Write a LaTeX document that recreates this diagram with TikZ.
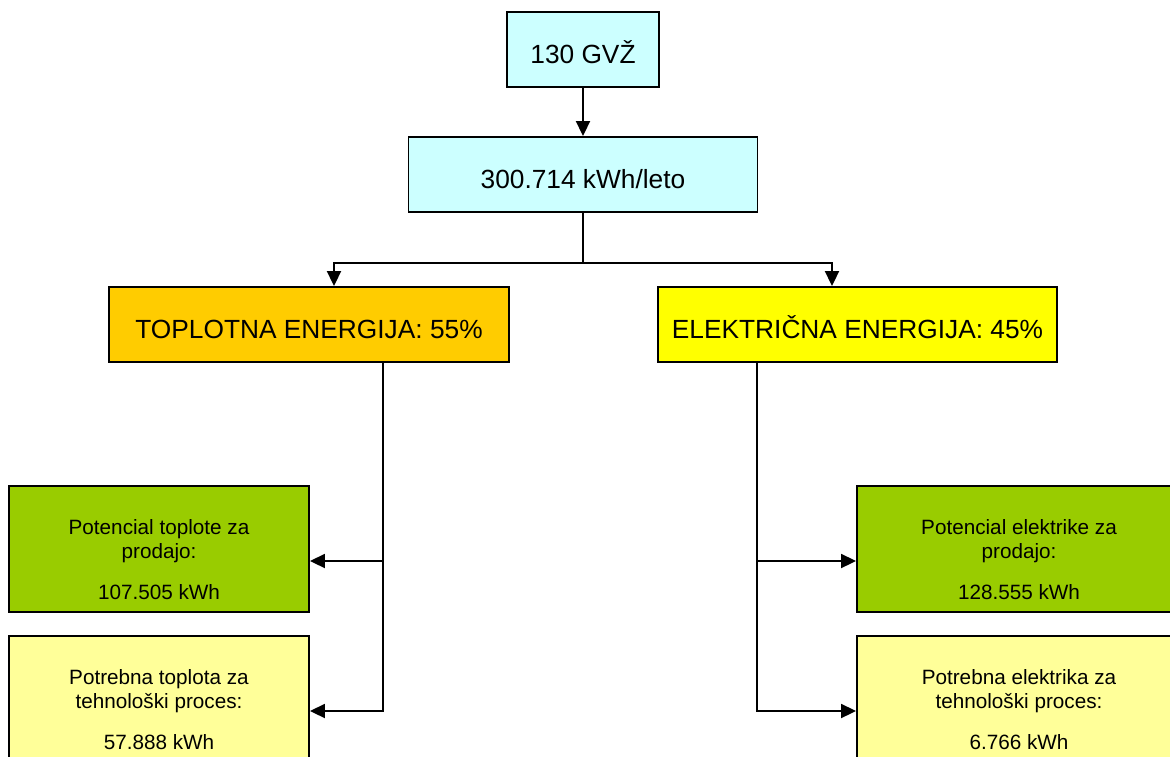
\documentclass[tikz,border=0pt]{standalone}
\usepackage{fontspec}
\setmainfont{Liberation Sans}
\usepackage{tikz}
\usepackage{xcolor}
\usetikzlibrary{
    arrows.meta,
    calc,
    positioning
}
\definecolor{bxcyan}{HTML}{CCFFFF}
\definecolor{bxorange}{HTML}{FFCC00}
\definecolor{bxyellow}{HTML}{FFFF00}
\definecolor{bxgreen}{HTML}{99CC00}
\definecolor{bxpale}{HTML}{FFFF99}
\newcommand{\topgap}{\rule{0pt}{37pt}}
\tikzset{bxbig/.style={rectangle, draw=black, line width=1.9pt, inner sep=0pt, minimum height=75pt, text height=30pt, text depth=2pt, align=center, font=\fontsize{26.3}{30}\selectfont}}
\tikzset{bxsmall/.style={rectangle, draw=black, line width=1.9pt, inner sep=0pt, minimum height=126pt, align=center, font=\fontsize{20.7}{24}\selectfont}}
\tikzset{lnk/.style={line width=1.9pt, -{Triangle[length=15pt, width=14pt]}}}

\begin{document}
\begin{tikzpicture}[x=1pt, y=-1pt]
                        \useasboundingbox (0, 0) rectangle (1170, 756);
                        \clip (0, 0) rectangle (1170, 756);
                        \fill[white] (0, 0) rectangle (1170, 756);

                        \node[bxbig, fill=bxcyan, minimum width=152pt] (gvz) at (583, 49.5) {130 GVŽ};
                        \node[bxbig, fill=bxcyan, minimum width=349pt] (kwh) at (583, 174.5) {300.714 kWh/leto};

                        \node[bxbig, fill=bxorange, minimum width=400pt] (heat) at (309, 324.5) {TOPLOTNA ENERGIJA: 55\%};
                        \node[bxbig, fill=bxyellow, minimum width=399pt] (elec) at (857.5, 324.5) {ELEKTRIČNA ENERGIJA: 45\%};

                        \node[bxsmall, fill=bxgreen, minimum width=300pt] (hsale) at (159, 549) {\topgap Potencial toplote za\\prodajo:\\[17pt]107.505 kWh};
                        \node[bxsmall, fill=bxpale, minimum width=300pt] (hproc) at (159, 699) {\topgap Potrebna toplota za\\tehnološki proces:\\[17pt]57.888 kWh};
                        \node[bxsmall, fill=bxgreen, minimum width=324pt] (esale) at (1019, 549) {\topgap Potencial elektrike za\\prodajo:\\[17pt]128.555 kWh};
                        \node[bxsmall, fill=bxpale, minimum width=324pt] (eproc) at (1019, 699) {\topgap Potrebna elektrika za\\tehnološki proces:\\[17pt]6.766 kWh};

                        \coordinate (split) at ($(kwh.south) + (0, 50)$);
                        \coordinate (hbus) at ([xshift=74pt]heat.south);
                        \coordinate (ebus) at ([xshift=-100.5pt]elec.south);

                        \draw
                        (gvz) edge[lnk] (kwh);

                        \draw[line width=1.9pt] (kwh.south) -- (split);
                        \draw[lnk] (split) -| ([xshift=25pt]heat.north);
                        \draw[lnk] (split) -| ([xshift=-25.5pt]elec.north);

                        \draw[lnk] (hbus) |- ([yshift=-12pt]hsale.east);
                        \draw[lnk] (hbus) |- ([yshift=-12pt]hproc.east);
                        \draw[lnk] (ebus) |- ([yshift=-12pt]esale.west);
                        \draw[lnk] (ebus) |- ([yshift=-12pt]eproc.west);
                    \end{tikzpicture}
\end{document}
